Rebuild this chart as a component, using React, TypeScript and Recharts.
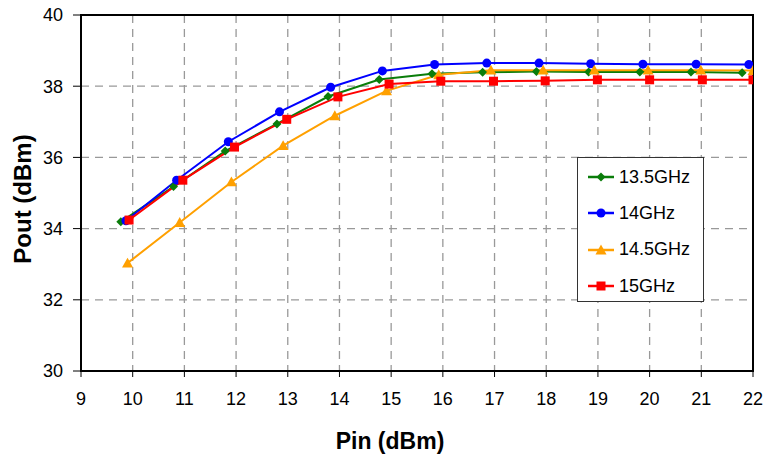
import React from "react";
import { LineChart, Line, XAxis, YAxis, CartesianGrid, ReferenceArea } from "recharts";

const xTicks = [9, 10, 11, 12, 13, 14, 15, 16, 17, 18, 19, 20, 21, 22];
const yTicks = [30, 32, 34, 36, 38, 40];

const greenX = [9.77, 10.79, 11.79, 12.79, 13.78, 14.77, 15.79, 16.77, 17.81, 18.82, 19.81, 20.8, 21.79];
const greenY = [34.19, 35.18, 36.18, 36.94, 37.71, 38.19, 38.35, 38.39, 38.41, 38.4, 38.4, 38.4, 38.38];
const blueX = [9.87, 10.85, 11.85, 12.84, 13.83, 14.83, 15.84, 16.85, 17.86, 18.86, 19.87, 20.9, 21.92];
const blueY = [34.22, 35.36, 36.44, 37.28, 37.97, 38.43, 38.61, 38.65, 38.65, 38.63, 38.62, 38.62, 38.61];
const orangeX = [9.9, 10.91, 11.91, 12.91, 13.91, 14.91, 15.92, 16.93, 17.94, 18.93, 19.97, 20.99, 22.0];
const orangeY = [33.03, 34.17, 35.31, 36.33, 37.17, 37.87, 38.32, 38.45, 38.45, 38.45, 38.45, 38.45, 38.44];
const redX = [9.93, 10.97, 11.97, 12.98, 13.97, 14.96, 15.96, 16.98, 17.98, 18.99, 20.0, 21.02, 22.0];
const redY = [34.24, 35.36, 36.29, 37.07, 37.7, 38.06, 38.14, 38.14, 38.15, 38.18, 38.18, 38.18, 38.18];

const zip = (xs: number[], ys: number[]) => xs.map((x, i) => ({ x, y: ys[i] }));

const GREEN = "#0a7d0a";
const BLUE = "#0000ff";
const ORANGE = "#ffa000";
const RED = "#ff0000";
const FONT = "Liberation Sans, Arial, sans-serif";

type Kind = "diamond" | "circle" | "triangle" | "square";

const Marker = ({ cx, cy, kind, color }: { cx: number; cy: number; kind: Kind; color: string }) => {
  if (cx == null || cy == null) return null;
  if (kind === "diamond") {
    const s = 4.5;
    return <path d={`M${cx},${cy - s}L${cx + s},${cy}L${cx},${cy + s}L${cx - s},${cy}Z`} fill={color} />;
  }
  if (kind === "circle") return <circle cx={cx} cy={cy} r={4.5} fill={color} />;
  if (kind === "triangle") {
    const s = 5.5;
    return <path d={`M${cx},${cy - s}L${cx + s},${cy + s * 0.8}L${cx - s},${cy + s * 0.8}Z`} fill={color} />;
  }
  return <rect x={cx - 4.5} y={cy - 4.5} width={9} height={9} fill={color} />;
};

const series: { name: string; data: { x: number; y: number }[]; color: string; kind: Kind }[] = [
  { name: "13.5GHz", data: zip(greenX, greenY), color: GREEN, kind: "diamond" },
  { name: "14GHz", data: zip(blueX, blueY), color: BLUE, kind: "circle" },
  { name: "14.5GHz", data: zip(orangeX, orangeY), color: ORANGE, kind: "triangle" },
  { name: "15GHz", data: zip(redX, redY), color: RED, kind: "square" },
];

const LegendBox = () => (
  <div
    style={{
      position: "absolute",
      left: 577,
      top: 157,
      width: 127,
      height: 145,
      border: "1.5px solid #333",
      background: "#fff",
      boxSizing: "border-box",
      paddingTop: 1,
      fontFamily: FONT,
      fontSize: 18,
    }}
  >
    {series.map((s) => (
      <div key={s.name} style={{ display: "flex", alignItems: "center", height: 36.3 }}>
        <svg width={30} height={14} style={{ marginLeft: 9, flex: "none" }}>
          <line x1={1} y1={7} x2={27} y2={7} stroke={s.color} strokeWidth={2.5} />
          <Marker cx={14} cy={7} kind={s.kind} color={s.color} />
        </svg>
        <span style={{ marginLeft: 2, color: "#000", whiteSpace: "nowrap" }}>{s.name}</span>
      </div>
    ))}
  </div>
);

const XTitle = (props: any) => {
  const vb = props.viewBox || {};
  const cx = vb.x + vb.width / 2 - 27;
  return (
    <text x={cx} y={449} textAnchor="middle" fill="#000" fontSize={23} fontWeight="bold" fontFamily={FONT}>
      Pin (dBm)
    </text>
  );
};

const YTitle = (props: any) => {
  const vb = props.viewBox || {};
  const cy = vb.y + vb.height / 2 + 6;
  const cx = 22;
  return (
    <text
      x={cx}
      y={cy}
      transform={`rotate(-90, ${cx}, ${cy})`}
      textAnchor="middle"
      dominantBaseline="central"
      fill="#000"
      fontSize={24}
      fontWeight="bold"
      fontFamily={FONT}
    >
      Pout (dBm)
    </text>
  );
};

export default function App() {
  return (
    <div style={{ position: "absolute", left: 0, top: 0, width: 764, height: 461, background: "#fff" }}>
      <LineChart width={764} height={461} margin={{ top: 15, right: 11, bottom: 0, left: 0 }}>
        <CartesianGrid stroke="#999" strokeDasharray="8 6" strokeWidth={1.3} />
        <XAxis
          type="number"
          dataKey="x"
          domain={[9, 22]}
          ticks={xTicks}
          allowDataOverflow
          height={90}
          tickSize={6}
          tickMargin={15}
          axisLine={{ stroke: "#000", strokeWidth: 2 }}
          tickLine={{ stroke: "#000" }}
          tick={{ fill: "#000", fontSize: 18, fontFamily: FONT }}
          label={{ content: (p: any) => <XTitle {...p} /> }}
        />
        <YAxis
          type="number"
          domain={[30, 40]}
          ticks={yTicks}
          width={81}
          tickSize={8}
          tickMargin={10}
          axisLine={{ stroke: "#000", strokeWidth: 2 }}
          tickLine={{ stroke: "#000" }}
          tick={{ fill: "#000", fontSize: 18, fontFamily: FONT }}
          label={{ content: (p: any) => <YTitle {...p} /> }}
        />
        <ReferenceArea x1={9} x2={22} y1={30} y2={40} fill="none" stroke="#000" strokeWidth={2} />
        {series.map((s) => (
          <Line
            key={s.name}
            data={s.data}
            dataKey="y"
            name={s.name}
            stroke={s.color}
            strokeWidth={2}
            isAnimationActive={false}
            dot={(p: any) => <Marker key={p.index} cx={p.cx} cy={p.cy} kind={s.kind} color={s.color} />}
            activeDot={false}
          />
        ))}
      </LineChart>
      <LegendBox />
    </div>
  );
}
